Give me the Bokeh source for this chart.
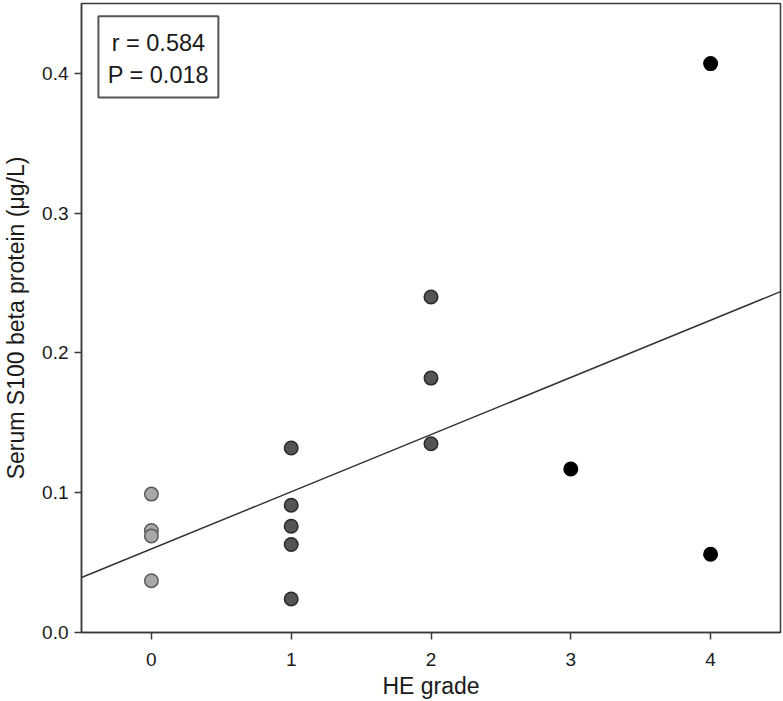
from bokeh.plotting import figure
from bokeh.models import ColumnDataSource, FixedTicker, NumeralTickFormatter, Label, BoxAnnotation, Range1d
from bokeh.embed import file_html
from bokeh.resources import INLINE

# Data
he_grade = [0, 0, 0, 0, 1, 1, 1, 1, 1, 2, 2, 2, 3, 4, 4]
s100 = [0.099, 0.073, 0.069, 0.037, 0.132, 0.091, 0.076, 0.063, 0.024,
        0.240, 0.182, 0.135, 0.117, 0.407, 0.056]
fit_intercept = 0.0598
fit_slope = 0.0409
r_text = "r = 0.584"
p_text = "P = 0.018"
x_ticks = [0, 1, 2, 3, 4]
y_ticks = [0.0, 0.1, 0.2, 0.3, 0.4]

grade_fill = {0: "#a8a8a8", 1: "#555555", 2: "#555555", 3: "#000000", 4: "#000000"}
grade_line = {0: "#5a5a5a", 1: "#2a2a2a", 2: "#2a2a2a", 3: "#000000", 4: "#000000"}

src = ColumnDataSource(dict(
    x=he_grade, y=s100,
    fill=[grade_fill[g] for g in he_grade],
    line=[grade_line[g] for g in he_grade],
))

FONT = "Liberation Sans"
TXT = "#1a1a1a"
X_START, X_END = -0.5, 4.5

p = figure(width=783, height=701, output_backend="svg", toolbar_location=None,
           x_range=Range1d(X_START, X_END), y_range=Range1d(0.0, 0.45),
           min_border_left=80, min_border_right=3, min_border_top=3, min_border_bottom=69)
p.xgrid.visible = False
p.ygrid.visible = False
p.outline_line_color = "#3a3a3a"
p.outline_line_width = 1.5
p.outline_line_alpha = 1.0
p.background_fill_color = "white"
p.border_fill_color = "white"

# regression line
xs = [X_START, X_END]
p.line(xs, [fit_intercept + fit_slope * v for v in xs], line_color="#333333", line_width=1.5)

p.scatter("x", "y", source=src, size=13.5, fill_color="fill", line_color="line", line_width=1.5)

for ax in (p.xaxis[0], p.yaxis[0]):
    ax.axis_line_color = "#3a3a3a"
    ax.axis_line_width = 1.5
    ax.major_tick_line_color = "#3a3a3a"
    ax.major_tick_line_width = 1.5
    ax.major_tick_out = 7
    ax.major_tick_in = 0
    ax.minor_tick_line_color = None
    ax.major_label_text_font = FONT
    ax.major_label_text_font_size = "19px"
    ax.major_label_text_color = TXT
    ax.axis_label_text_font = FONT
    ax.axis_label_text_font_size = "23px"
    ax.axis_label_text_font_style = "normal"
    ax.axis_label_text_color = TXT

p.xaxis.ticker = FixedTicker(ticks=x_ticks)
p.yaxis.ticker = FixedTicker(ticks=y_ticks)
p.yaxis.formatter = NumeralTickFormatter(format="0.0")
p.xaxis.axis_label = "HE grade"
p.yaxis.axis_label = "Serum S100 beta protein (\u03bcg/L)"
p.xaxis.major_label_standoff = 13
p.xaxis.axis_label_standoff = 4
p.yaxis.major_label_standoff = 6
p.yaxis.axis_label_standoff = 10

# stats box
box = BoxAnnotation(left=-0.379, right=0.479, top=0.4408, bottom=0.3828,
                    fill_color="white", fill_alpha=1.0,
                    line_color="#555555", line_alpha=1.0, line_width=2)
p.add_layout(box)
p.add_layout(Label(x=0.05, y=0.4215, text=r_text, text_align="center", text_baseline="middle",
                   text_font=FONT, text_font_size="23.5px", text_color=TXT))
p.add_layout(Label(x=0.05, y=0.3985, text=p_text, text_align="center", text_baseline="middle",
                   text_font=FONT, text_font_size="23.5px", text_color=TXT))

open("out.html", "w").write(file_html(p, INLINE))
